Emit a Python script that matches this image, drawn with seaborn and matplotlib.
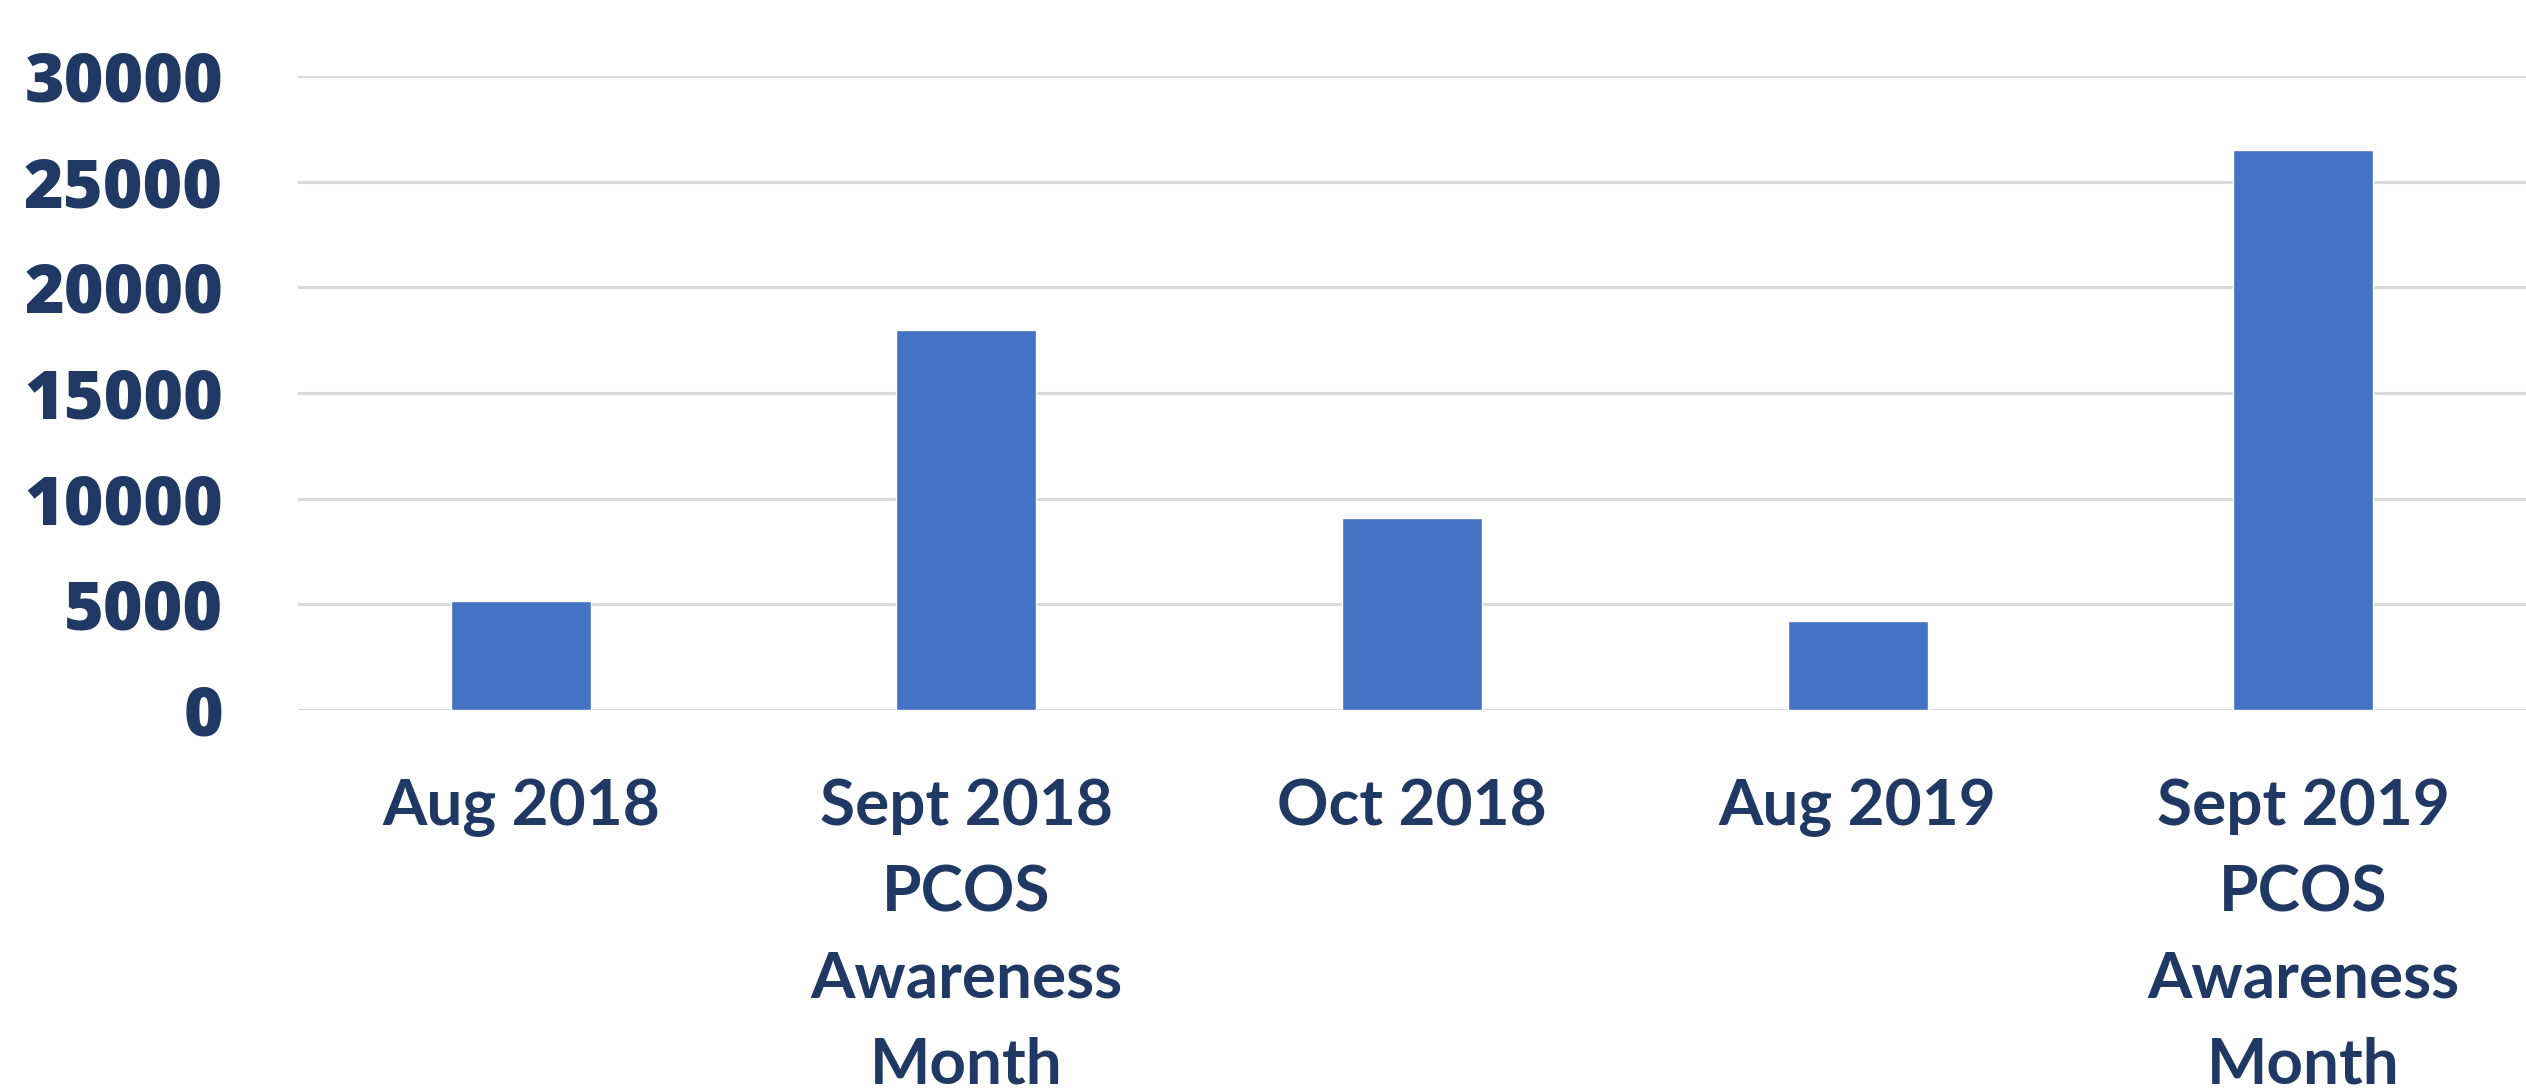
import matplotlib
matplotlib.use('Agg')
import matplotlib.pyplot as plt
import seaborn as sns
import pandas as pd

# Data
months = ['Aug 2018', 'Sept 2018\nPCOS\nAwareness\nMonth', 'Oct 2018',
          'Aug 2019', 'Sept 2019\nPCOS\nAwareness\nMonth']
searches = [5150, 18000, 9100, 4200, 26500]
y_ticks = [0, 5000, 10000, 15000, 20000, 25000, 30000]

navy = '#203864'
bar_blue = '#4472C4'
grid_grey = '#d9d9d9'

df = pd.DataFrame({'month': months, 'searches': searches})

sns.set_style('white')

fig = plt.figure(figsize=(25.26, 10.88), dpi=100)
ax = fig.add_axes([298 / 2526, 1 - 710 / 1088, 1 - 298 / 2526, (710 - 76) / 1088])

sns.barplot(data=df, x='month', y='searches', color=bar_blue, width=0.314,
            saturation=1, ax=ax)

ax.set_ylim(0, 30000)
ax.set_yticks(y_ticks)
ax.set_yticklabels([str(t) for t in y_ticks], fontfamily='Open Sans',
                   fontweight=800, fontsize=49, color=navy)
ax.set_xticks(range(len(months)))
ax.set_xticklabels(months, fontfamily='Lato', fontweight='bold',
                   fontsize=46, color=navy, linespacing=1.62)

ax.yaxis.grid(True, color=grid_grey, linewidth=2.2)
ax.set_axisbelow(True)
ax.tick_params(axis='y', length=0, pad=54)
ax.tick_params(axis='x', length=0, pad=49)
for s in ax.spines.values():
    s.set_visible(False)
ax.set_xlabel('')
ax.set_ylabel('')

fig.savefig('out.png', dpi=100)
